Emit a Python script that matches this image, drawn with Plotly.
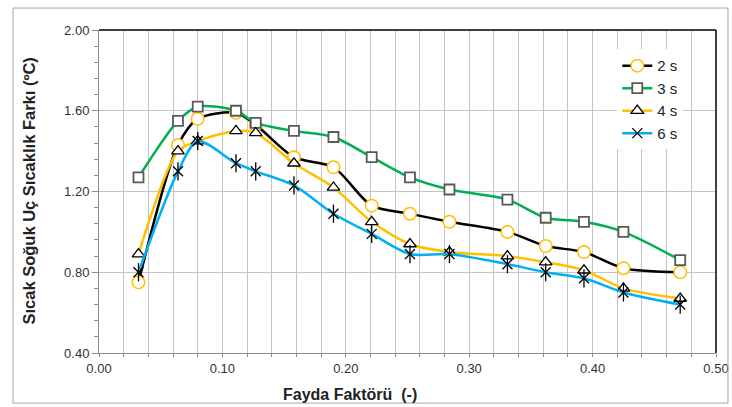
import plotly.graph_objects as go

x_vals = [0.032, 0.064, 0.080, 0.111, 0.127, 0.158, 0.190, 0.221, 0.252, 0.284, 0.331, 0.362, 0.393, 0.425, 0.471]
s2 = [0.75, 1.43, 1.56, 1.59, 1.53, 1.37, 1.32, 1.13, 1.09, 1.05, 1.00, 0.93, 0.90, 0.82, 0.80]
s3 = [1.27, 1.55, 1.62, 1.60, 1.54, 1.50, 1.47, 1.37, 1.27, 1.21, 1.16, 1.07, 1.05, 1.00, 0.86]
s4 = [0.89, 1.40, 1.45, 1.50, 1.49, 1.34, 1.22, 1.05, 0.94, 0.90, 0.88, 0.85, 0.81, 0.72, 0.67]
s6 = [0.80, 1.30, 1.45, 1.34, 1.30, 1.23, 1.09, 0.99, 0.89, 0.89, 0.84, 0.80, 0.77, 0.70, 0.64]
names = ["2 s", "3 s", "4 s", "6 s"]

FONT = "Arial, Liberation Sans, sans-serif"
fig = go.Figure()
sm = 0.8

fig.add_trace(go.Scatter(x=x_vals, y=s2, name=names[0], mode="lines+markers",
    line=dict(color="black", width=2.5, shape="spline", smoothing=sm),
    marker=dict(symbol="circle", size=12.5, color="white", line=dict(color="#FFC000", width=1.5))))
fig.add_trace(go.Scatter(x=x_vals, y=s3, name=names[1], mode="lines+markers",
    line=dict(color="#00B050", width=2.5, shape="spline", smoothing=sm),
    marker=dict(symbol="square", size=10, color="white", line=dict(color="#595959", width=1.8))))
fig.add_trace(go.Scatter(x=x_vals, y=s4, name=names[2], mode="lines+markers",
    line=dict(color="#FFC000", width=2.5, shape="spline", smoothing=sm),
    marker=dict(symbol="triangle-up", size=11, color="white", line=dict(color="black", width=1.3))))
fig.add_trace(go.Scatter(x=x_vals, y=s6, name=names[3], mode="lines+markers", legendgroup="g6",
    line=dict(color="#00B0F0", width=2.5, shape="spline", smoothing=sm),
    marker=dict(symbol="x-thin-open", size=10, color="black", line=dict(color="black", width=1.3))))
fig.add_trace(go.Scatter(x=x_vals, y=s6, name=names[3], mode="markers", legendgroup="g6", showlegend=False,
    marker=dict(symbol="line-ns-open", size=13, color="black", line=dict(color="black", width=1.3))))

fig.update_layout(
    width=732, height=407,
    margin=dict(l=99, r=16, t=30, b=54, autoexpand=False),
    paper_bgcolor="white", plot_bgcolor="white",
    font=dict(family=FONT, color="#333333"),
    showlegend=True,
    legend=dict(x=0.84, y=0.94, xanchor="left", yanchor="top", bgcolor="white",
                font=dict(size=15, family=FONT, color="#222222"), tracegroupgap=0,
                itemwidth=30),
    xaxis=dict(range=[0, 0.5], dtick=0.1, tick0=0, tickformat=".2f", automargin=False,
               showgrid=True, gridcolor="#C4C4C4", gridwidth=1,
               showline=True, linecolor="#8C8C8C", linewidth=1,
               ticks="outside", ticklen=3, tickcolor="#8C8C8C",
               tickfont=dict(size=13, family=FONT, color="#333333"),
               minor=dict(dtick=0.02, tick0=0, showgrid=True, gridcolor="#C4C4C4",
                          ticks="outside", ticklen=3, tickcolor="#8C8C8C"),
               zeroline=False),
    yaxis=dict(range=[0.4, 2.0], dtick=0.4, tick0=0.4, tickformat=".2f", automargin=False,
               showgrid=True, gridcolor="#C4C4C4", gridwidth=1,
               showline=True, linecolor="#8C8C8C", linewidth=1,
               ticks="outside", ticklen=6, tickcolor="#8C8C8C",
               tickfont=dict(size=13, family=FONT, color="#333333"),
               minor=dict(dtick=0.08, tick0=0.4, showgrid=False,
                          ticks="outside", ticklen=4, tickcolor="#8C8C8C"),
               zeroline=False),
)

fig.add_shape(type="line", xref="paper", yref="paper", x0=0, x1=1, y0=1, y1=1,
              line=dict(color="black", width=1.5))
fig.add_shape(type="line", xref="paper", yref="paper", x0=1, x1=1, y0=0, y1=1,
              line=dict(color="black", width=1.5))
fig.add_shape(type="rect", xref="paper", yref="paper", x0=-0.1394, x1=1.0194, y0=-0.155, y1=1.068,
              line=dict(color="#A6A6A6", width=1))

fig.add_annotation(text="<b>Sıcak Soğuk Uç Sıcaklık Farkı (ºC)</b>", xref="paper", yref="paper",
                   x=-0.115, y=0.50, xanchor="center", yanchor="middle", textangle=-90, showarrow=False,
                   font=dict(size=16.5, family=FONT, color="#222222"))
fig.add_annotation(text="<b>Fayda Faktörü \u00a0(-)</b>", xref="paper", yref="paper",
                   x=0.407, y=-0.130, xanchor="center", yanchor="middle", showarrow=False,
                   font=dict(size=16, family=FONT, color="#222222"))

fig.write_html("out.html", config={"displayModeBar": False},
               post_script="document.body.style.margin='0';document.body.style.overflow='hidden';")
